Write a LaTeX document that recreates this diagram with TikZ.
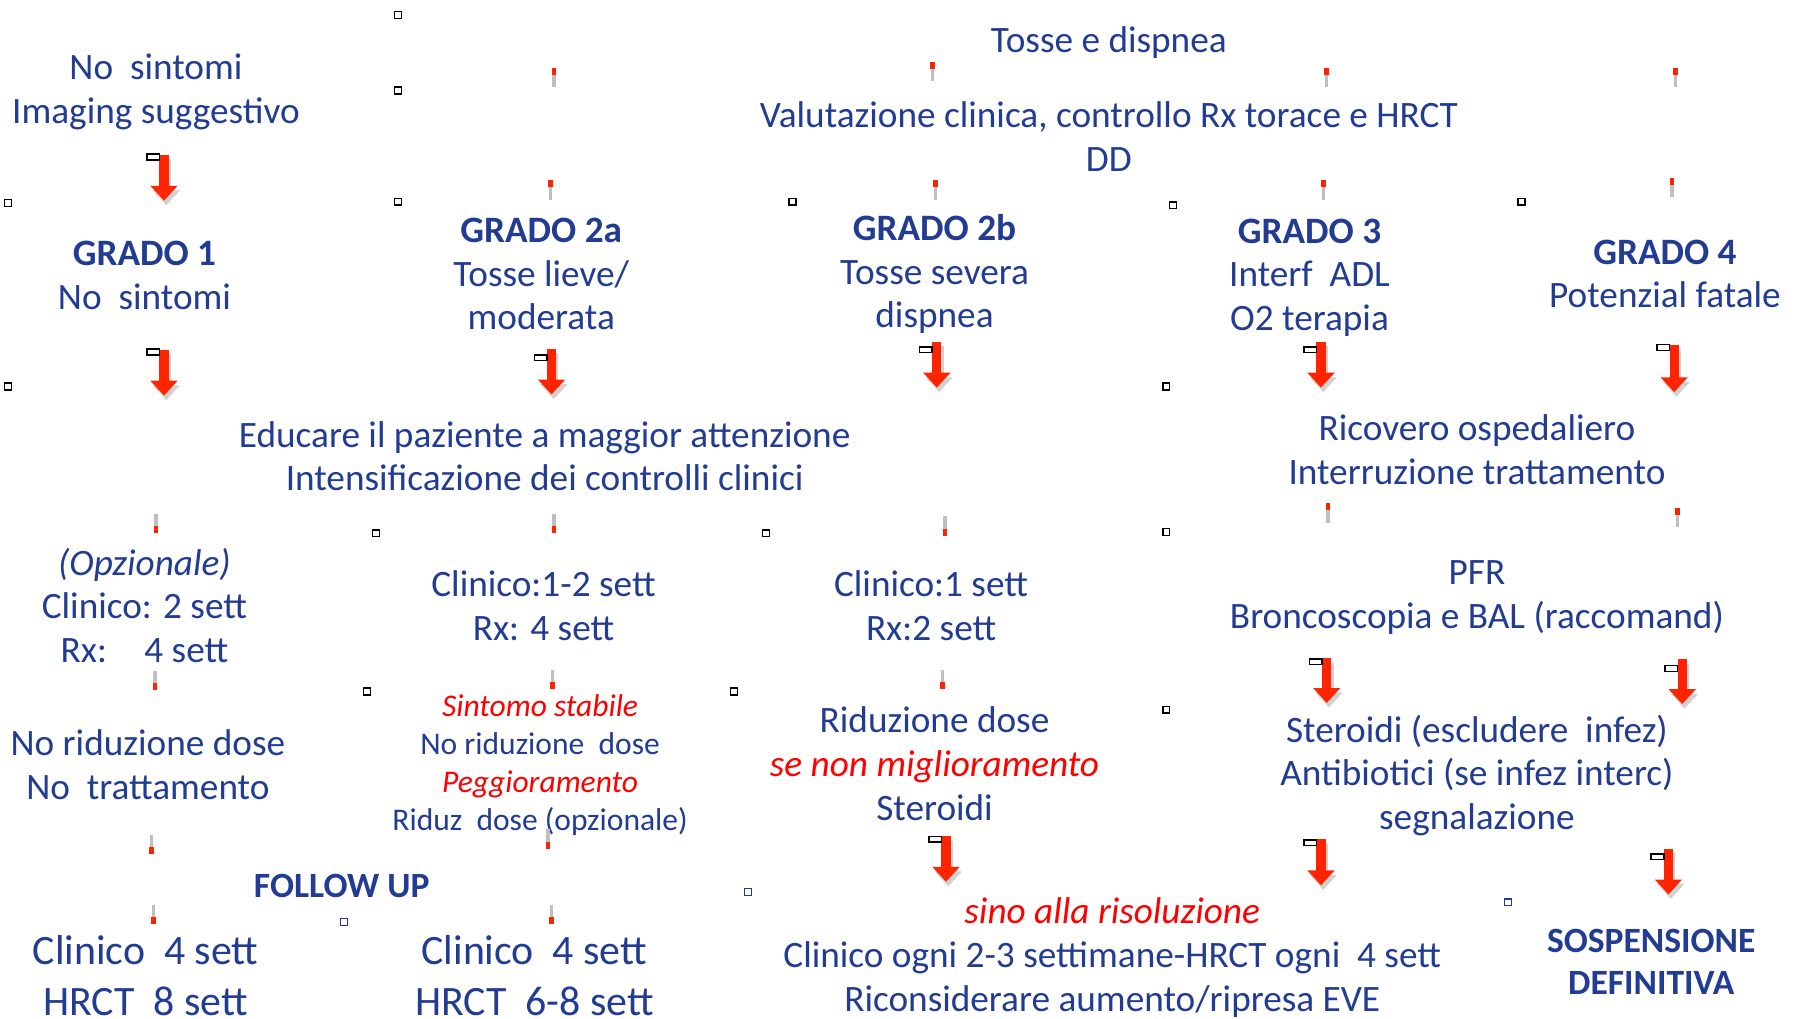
\documentclass[tikz,border=0pt]{standalone}
\usepackage{fontspec}
\setmainfont{Carlito}
\usetikzlibrary{arrows.meta}
\definecolor{txtblue}{RGB}{33,60,146}
\definecolor{arrred}{RGB}{255,36,0}
\tikzset{
  txt/.style={text=txtblue, align=center, inner sep=0pt, font=\fontsize{32.5}{38}\selectfont},
  smalltxt/.style={txt, font=\fontsize{27.5}{33}\selectfont},
  bigtxt/.style={txt, font=\fontsize{36.5}{44}\selectfont},
  headtxt/.style={txt, font=\bfseries\fontsize{31}{37}\selectfont},
  down/.style={draw=arrred, line width=8pt, -{Triangle[width=23pt,length=13pt]}},
  downshade/.style={draw=black!18, line width=8pt, -{Triangle[width=23pt,length=13pt]}},
  handle/.style={draw=black, fill=white, line width=1.4pt, minimum width=11pt, minimum height=5pt, inner sep=0pt}
}
\newcommand{\red}[1]{{\color{red}\itshape #1}}
\begin{document}
\begin{tikzpicture}[x=1pt,y=-1pt]
\useasboundingbox[fill=white] (0,0) rectangle (1568,888);

\node[txt] (sintomi) at (136,80) {No\ \ sintomi\\Imaging suggestivo};
\node[txt] (grado1) at (126,240) {\textbf{GRADO 1}\\No\ \ sintomi};
\node[txt] (grado2a) at (472,239) {\textbf{GRADO 2a}\\Tosse lieve/\\moderata};
\node[txt] (grado2b) at (815,239) {\textbf{GRADO 2b}\\Tosse severa\\dispnea};
\node[txt] (tosse) at (967,37) {Tosse e dispnea};
\node[txt] (valut) at (967,119) {Valutazione clinica, controllo Rx torace e HRCT\\DD};
\node[txt] (grado3) at (1142,242) {\textbf{GRADO 3}\\Interf\ \ ADL\\O2 terapia};
\node[txt] (grado4) at (1452,239) {\textbf{GRADO 4}\\Potenzial fatale};

\node[txt] (educ) at (475,398) {Educare il paziente a maggior attenzione\\Intensificazione dei controlli clinici};
\node[txt] (ricov) at (1288,392) {Ricovero ospedaliero\\Interruzione trattamento};

\node[txt] (opz1) at (126,528) {\textit{(Opzionale)}\\Clinico: 2 sett\\Rx:\hspace{1em}4 sett};
\node[txt] (contr2a) at (474,528) {Clinico:1-2 sett\\Rx: 4 sett};
\node[txt] (contr2b) at (812,528) {Clinico:1 sett\\Rx:2 sett};
\node[txt] (pfr) at (1288,521) {PFR\\Broncoscopia e BAL (raccomand)};

\node[txt] (nored) at (129,667) {No riduzione dose\\No\ \ trattamento};
\node[smalltxt] (stabile) at (471,667) {\red{Sintomo stabile}\\No riduzione\ \ dose\\\red{Peggioramento}\\Riduz\ \ dose (opzionale)};
\node[txt] (riduz) at (815,666) {Riduzione dose\\\red{se non miglioramento}\\Steroidi};
\node[txt] (steroidi) at (1288,676) {Steroidi (escludere\ \ infez)\\Antibiotici (se infez interc)\\segnalazione};

\node[headtxt] (follow) at (298,773) {FOLLOW UP};
\node[bigtxt] (fu1) at (127,851) {Clinico\ \ 4 sett\\HRCT\ \ 8 sett};
\node[bigtxt] (fu2) at (466,851) {Clinico\ \ 4 sett\\HRCT\ \ 6-8 sett};
\node[txt] (sino) at (970,835) {\red{sino alla risoluzione}\\Clinico ogni 2-3 settimane-HRCT ogni\ \ 4 sett\\Riconsiderare aumento/ripresa EVE};
\node[headtxt] (sosp) at (1440,839) {SOSPENSIONE\\DEFINITIVA};

\coordinate (a1) at (143,135); \coordinate (b1) at (143,175);
\coordinate (a2) at (143,305); \coordinate (b2) at (143,345);
\coordinate (a3) at (481,304); \coordinate (b3) at (481,344);
\coordinate (a4) at (817,298); \coordinate (b4) at (817,338);
\coordinate (a5) at (1152,298); \coordinate (b5) at (1152,338);
\coordinate (a6) at (1460,301); \coordinate (b6) at (1460,342);
\coordinate (a7) at (825,729); \coordinate (b7) at (825,769);
\coordinate (a8) at (1157,574); \coordinate (b8) at (1157,613);
\coordinate (a9) at (1467,575); \coordinate (b9) at (1467,614);
\coordinate (a10) at (1152,732); \coordinate (b10) at (1152,772);
\coordinate (a11) at (1455,740); \coordinate (b11) at (1455,780);

\foreach \i in {1,...,11}
  \draw[downshade] ([shift={(2,4)}]a\i) -- ([shift={(2,4)}]b\i);
\foreach \i in {1,...,11}
  \draw[down] (a\i) -- (b\i);

\node[handle] at (133.5,137) {};
\node[handle] at (133.5,307) {};
\node[handle] at (471.5,312) {};
\node[handle] at (807.5,305) {};
\node[handle] at (1142.5,305) {};
\node[handle] at (1450.5,303) {};
\node[handle] at (815.5,732) {};
\node[handle] at (1147.5,577) {};
\node[handle] at (1457.5,583) {};
\node[handle] at (1142.5,735) {};
\node[handle] at (1445.5,747) {};

\foreach \x/\y in {483/62,480/160,813/57,816/160,1157/62,1154/160,1461/62,1458/158,1158/442,1463/446}{
  \fill[black!25] (\x-1.5,\y+3) rectangle (\x+1.5,\y+14);
  \fill[arrred] (\x-2,\y-3) rectangle (\x+2,\y+3);
}
\foreach \x/\y in {136/462,483/462,824/464,135/599,482/598,822/598,132/742,478/737,134/803,481/803}{
  \fill[black!25] (\x-1.5,\y-14) rectangle (\x+1.5,\y-3);
  \fill[arrred] (\x-2,\y-3) rectangle (\x+2,\y+3);
}

\foreach \x/\y in {347/13,347/79,7/177,347/176,691/176,1023/179,1327/176,7/337,1017/337,328/465,668/465,1017/464,320/603,640/603,1017/619}
  \draw[black, line width=1.4pt, fill=white] (\x-3,\y-3) rectangle (\x+3,\y+3);
\foreach \x/\y in {300/804,652/778,1315/787}
  \draw[txtblue, line width=1pt] (\x-3,\y-3) rectangle (\x+3,\y+3);
\end{tikzpicture}
\end{document}
